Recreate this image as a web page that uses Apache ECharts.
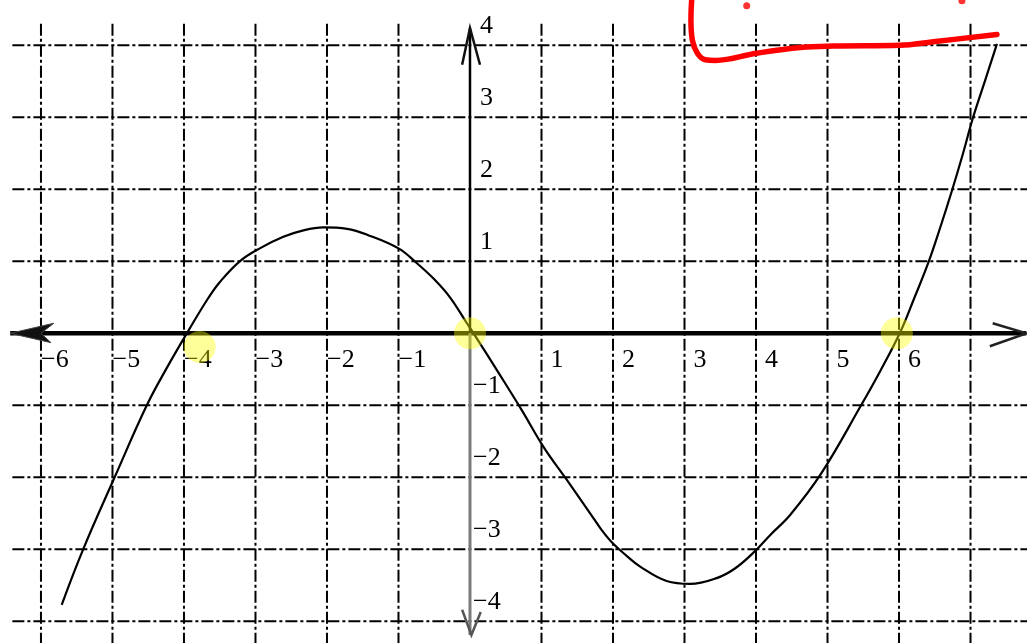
<!DOCTYPE html>
<html>
<head>
<meta charset="utf-8">
<script src="https://cdn.jsdelivr.net/npm/echarts@6/dist/echarts.min.js"></script>
<style>
  html, body { margin: 0; padding: 0; background: #ffffff; }
  #chart { width: 1027px; height: 643px; }
</style>
</head>
<body>
<div id="chart"></div>
<script>
// Cubic curve crossing the x-axis at -4, 0 and 6
const curveX = [-5.71, -5.41, -4.97, -4.52, -4.24, -3.96, -3.66, -3.50, -3.22, -2.94, -2.61, -2.33, -2.05,
  -1.72, -1.44, -1.00, -0.75, -0.51, -0.28, -0.05, 0.05, 0.42, 0.72, 1.03, 1.35, 1.68, 1.84, 2.00, 2.19, 2.38,
  2.75, 3.08, 3.45, 3.70, 3.96, 4.20, 4.48, 4.91, 5.47, 5.74, 6.01, 6.21, 6.41, 6.58, 6.74, 6.89, 7.03, 7.20, 7.37];
const curveY = [-3.77, -3.00, -2.00, -1.00, -0.48, 0.00, 0.49, 0.71, 1.00, 1.18, 1.34, 1.43, 1.47,
  1.45, 1.37, 1.18, 0.98, 0.76, 0.50, 0.15, 0.00, -0.58, -1.06, -1.58, -2.03, -2.50, -2.73, -2.92, -3.09, -3.24,
  -3.44, -3.48, -3.40, -3.27, -3.05, -2.80, -2.52, -1.95, -1.00, -0.52, 0.00, 0.48, 0.98, 1.48, 1.98, 2.48, 2.98, 3.50, 4.02];

// Highlighted x-intercepts
const zeroX = [-3.78, 0, 5.97];
const zeroY = [-0.19, 0, 0];

// Tick labels
const xTickValues = [-6, -5, -4, -3, -2, -1, 1, 2, 3, 4, 5, 6];
const xTickLabels = ['−6', '−5', '−4', '−3', '−2', '−1', '1', '2', '3', '4', '5', '6'];
const yTickValues = [4, 3, 2, 1, -1, -2, -3, -4];
const yTickLabels = ['4', '3', '2', '1', '−1', '−2', '−3', '−4'];

// Dash-dot grid lines
const gridXLines = [-6, -5, -4, -3, -2, -1, 1, 2, 3, 4, 5, 6, 7];
const gridYLines = [4, 3, 2, 1, -1, -2, -3, -4];

// Red pen stroke in the upper right
const penX = [3.10, 3.09, 3.11, 3.18, 3.29, 3.43, 4.01, 4.62, 5.08, 6.01, 6.48, 7.37];
const penY = [4.63, 4.35, 4.07, 3.89, 3.80, 3.79, 3.89, 3.97, 3.99, 4.00, 4.05, 4.15];
const penDotX = [3.87, 6.88];
const penDotY = [4.55, 4.62];

// Visible window and the extents of the drawn grid and axes (data units)
const viewX = [-6.573, 7.79];
const viewY = [-4.301, 4.629];
const gridLeft = -6.4, gridRight = 7.8, gridTop = 4.3, gridBottom = -4.35;
const xAxisStart = -6.43, xAxisEnd = 7.78;
const yAxisTop = 4.24, yAxisBottom = -4.19;

const curveData = curveX.map((x, i) => [x, curveY[i]]);
const zeroData = zeroX.map((x, i) => [x, zeroY[i]]);
const penData = penX.map((x, i) => [x, penY[i]]);
const penDots = penDotX.map((x, i) => [x, penDotY[i]]);

const gridSegments = [
  ...gridXLines.map(x => [x, gridTop, x, gridBottom]),
  ...gridYLines.map(y => [gridLeft, y, gridRight, y])
];
// [value, axis (0 = x, 1 = y), label index]
const tickLabelData = [
  ...xTickValues.map((v, i) => [v, 0, i]),
  ...yTickValues.map((v, i) => [v, 1, i])
];

const serifFont = '26px "Liberation Serif", "DejaVu Serif", serif';

const chart = echarts.init(document.getElementById('chart'), null, { renderer: 'canvas' });

const hiddenAxis = (range) => ({
  type: 'value', min: range[0], max: range[1],
  show: false,
  axisLine: { show: false }, axisTick: { show: false },
  axisLabel: { show: false }, splitLine: { show: false }
});

chart.setOption({
  backgroundColor: '#ffffff',
  animation: false,
  grid: { left: 0, right: 0, top: 0, bottom: 0, outerBoundsMode: 'none', containLabel: false },
  xAxis: hiddenAxis(viewX),
  yAxis: hiddenAxis(viewY),
  series: [
    {
      // dash-dot grid
      type: 'custom', z: 1, silent: true, clip: false,
      dimensions: ['x1', 'y1', 'x2', 'y2'],
      encode: { x: [0, 2], y: [1, 3] },
      data: gridSegments,
      renderItem: (params, api) => {
        const a = api.coord([api.value(0), api.value(1)]);
        const b = api.coord([api.value(2), api.value(3)]);
        return {
          type: 'line',
          shape: { x1: a[0], y1: a[1], x2: b[0], y2: b[1] },
          style: { stroke: '#000', lineWidth: 2, lineDash: [12, 3, 3, 3] }
        };
      }
    },
    {
      // coordinate axes with arrowheads
      type: 'custom', z: 3, silent: true, clip: false,
      data: [[0, 0]],
      renderItem: (params, api) => {
        const c = p => api.coord(p);
        const poly = (pts, stroke, w) => ({
          type: 'polyline', shape: { points: pts.map(c) },
          style: { stroke: stroke, lineWidth: w, fill: null, lineJoin: 'miter' }
        });
        return {
          type: 'group',
          children: [
            poly([[xAxisStart, 0], [xAxisEnd, 0]], '#000', 4.5),
            { type: 'polygon', shape: { points: [[xAxisStart, 0], [-5.82, 0.14], [-6.0, 0], [-5.86, -0.13]].map(c) },
              style: { fill: '#111', stroke: '#444', lineWidth: 1 } },
            poly([[7.31, 0.14], [xAxisEnd, 0], [7.27, -0.18]], '#222', 2.5),
            poly([[0, yAxisTop], [0, 0]], '#000', 2.5),
            poly([[0, 0], [0, yAxisBottom]], '#7a7a7a', 3),
            poly([[-0.11, 3.73], [0, yAxisTop], [0.14, 3.73]], '#111', 2.5),
            poly([[-0.11, -3.84], [0.02, yAxisBottom], [0.15, -3.87]], '#555', 2.5)
          ]
        };
      }
    },
    {
      // tick labels beside the axes
      type: 'custom', z: 3, silent: true, clip: false,
      dimensions: ['v', 'axis', 'idx'],
      encode: { x: 0 },
      data: tickLabelData,
      renderItem: (params, api) => {
        const v = api.value(0), axis = api.value(1), idx = api.value(2);
        let x, y, text;
        if (axis === 0) {
          const p = api.coord([v, 0]);
          text = xTickLabels[idx];
          x = p[0] + (v > 0 ? 9 : 0);
          y = p[1] + 27;
        } else {
          const p = api.coord([0, v]);
          text = yTickLabels[idx];
          x = p[0] + (v > 0 ? 10 : 3);
          y = p[1] - 19;
        }
        return {
          type: 'text', x: x, y: y,
          style: { text: text, font: serifFont, fill: '#000', align: 'left', verticalAlign: 'middle' }
        };
      }
    },
    {
      name: 'f(x)', type: 'line', z: 4,
      data: curveData,
      smooth: 0.4,
      showSymbol: false, symbol: 'none',
      lineStyle: { color: '#000', width: 2.2 }
    },
    {
      name: 'zeros', type: 'scatter', z: 5,
      data: zeroData,
      symbol: 'circle', symbolSize: 32,
      itemStyle: { color: 'rgba(255,255,0,0.5)' }
    },
    {
      name: 'pen', type: 'line', z: 6,
      data: penData,
      smooth: 0.4, symbol: 'none',
      lineStyle: { color: '#ff0000', width: 5.5, cap: 'round', join: 'round' }
    },
    {
      name: 'pen dots', type: 'scatter', z: 6,
      data: penDots,
      symbol: 'circle', symbolSize: 7,
      itemStyle: { color: '#ff0000' }
    }
  ]
});
</script>
</body>
</html>
